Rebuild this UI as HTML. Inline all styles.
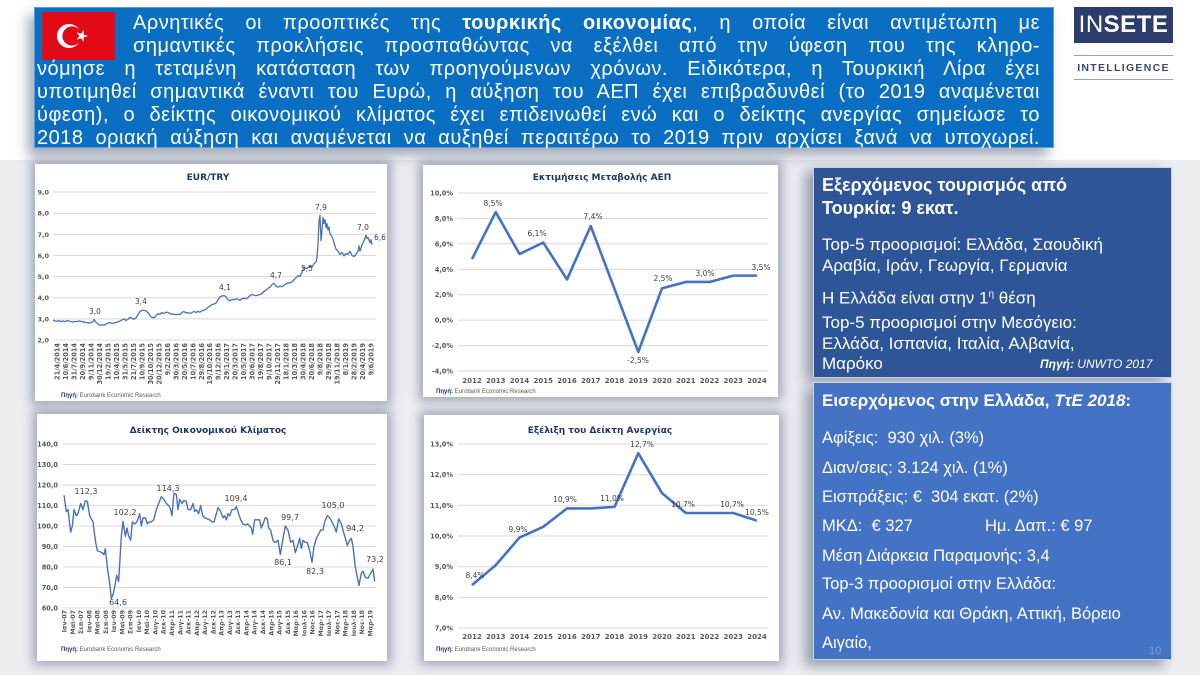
<!DOCTYPE html>
<html><head><meta charset="utf-8">
<style>
*{margin:0;padding:0;box-sizing:border-box}
html,body{width:1200px;height:675px;overflow:hidden;background:#eceef2;font-family:"Liberation Sans","DejaVu Sans",sans-serif}
.abs{position:absolute}
.banner{left:34px;top:7px;width:1020px;height:141px;background:#0a6fc2;border:1px solid #5d9ad6;box-shadow:-6px 8px 12px rgba(90,100,125,.55)}
.bl{position:absolute;color:#fff;font-size:20px;line-height:23px;height:23px;text-align:justify;text-align-last:justify;white-space:nowrap;overflow:visible;letter-spacing:0.5px}
.box{position:absolute;background:#fff;box-shadow:0 0 10px 4px rgba(85,95,125,.5)}
.p1{left:813px;top:167px;width:359px;height:211px;background:#2e5597;border:1px solid #c9d2e2;box-shadow:-8px 4px 12px rgba(80,90,115,.55)}
.p2{left:813px;top:382px;width:359px;height:278px;background:#4472c4;border:1px solid #c9d2e2;box-shadow:-8px 6px 12px rgba(80,90,115,.55)}
.pt{position:absolute;left:822px;color:#fff;white-space:nowrap}
.t18{font-size:18px;font-weight:bold;line-height:22px;height:22px}
.t17{font-size:17px;line-height:22px;height:22px}
.t165{font-size:16.5px;line-height:22px;height:22px}
</style></head><body>

<!-- top white region -->
<div class="abs" style="left:0;top:0;width:1200px;height:160px;background:#fff"></div>

<!-- banner -->
<div class="abs banner"></div>
<div class="abs" style="left:42px;top:12px;width:73px;height:48px;background:#e30a17"></div>
<svg class="abs" style="left:42px;top:12px" width="73" height="48" viewBox="0 0 73 48">
<circle cx="27" cy="24" r="12" fill="#fff"/>
<circle cx="30" cy="24" r="9.6" fill="#e30a17"/>
<polygon fill="#fff" points="42,24 37.6,25.4 37.7,30.1 35,26.3 30.6,27.8 33.4,24 30.6,20.2 35,21.7 37.7,17.9 37.6,22.6" transform="translate(4,0)"/>
</svg>

<div class="bl" style="left:133px;top:12px;width:907px">Αρνητικές οι προοπτικές της <b>τουρκικής οικονομίας</b>, η οποία είναι αντιμέτωπη με</div>
<div class="bl" style="left:133px;top:35px;width:907px">σημαντικές προκλήσεις προσπαθώντας να εξέλθει από την ύφεση που της κληρο-</div>
<div class="bl" style="left:37px;top:58px;width:1003px">νόμησε η τεταμένη κατάσταση των προηγούμενων χρόνων. Ειδικότερα, η Τουρκική Λίρα έχει</div>
<div class="bl" style="left:37px;top:81px;width:1003px">υποτιμηθεί σημαντικά έναντι του Ευρώ, η αύξηση του ΑΕΠ έχει επιβραδυνθεί (το 2019 αναμένεται</div>
<div class="bl" style="left:37px;top:104px;width:1003px">ύφεση), ο δείκτης οικονομικού κλίματος έχει επιδεινωθεί ενώ και ο δείκτης ανεργίας σημείωσε το</div>
<div class="bl" style="left:37px;top:127px;width:1003px">2018 οριακή αύξηση και αναμένεται να αυξηθεί περαιτέρω το 2019 πριν αρχίσει ξανά να υποχωρεί.</div>

<!-- logo -->
<div class="abs" style="left:1074px;top:7px;width:99px;height:36px;background:#2c3d6b;color:#fff;font-size:24px;line-height:36px;text-align:center;letter-spacing:0.5px">IN<b>SETE</b></div>
<div class="abs" style="left:1074px;top:55px;width:99px;height:1px;background:#9aa1ad"></div>
<div class="abs" style="left:1074px;top:61px;width:99px;font-size:10.5px;font-weight:bold;color:#3c4a66;text-align:center;letter-spacing:1.3px;line-height:14px">INTELLIGENCE</div>
<div class="abs" style="left:1074px;top:79px;width:99px;height:1px;background:#9aa1ad"></div>

<!-- chart boxes -->
<div class="box" style="left:35px;top:164px;width:352px;height:237px"></div>
<div class="box" style="left:423px;top:165px;width:355px;height:232px"></div>
<div class="box" style="left:37px;top:414px;width:350px;height:247px"></div>
<div class="box" style="left:424px;top:415px;width:355px;height:246px"></div>

<!-- right panels -->
<div class="abs p1"></div>
<div class="abs p2"></div>

<div class="pt t18" style="top:174px">Εξερχόμενος τουρισμός από</div>
<div class="pt t18" style="top:197px">Τουρκία: 9 εκατ.</div>
<div class="pt t17" style="top:234px">Top-5 προορισμοί: Ελλάδα, Σαουδική</div>
<div class="pt t17" style="top:255px">Αραβία, Ιράν, Γεωργία, Γερμανία</div>
<div class="pt t17" style="top:284px">Η Ελλάδα είναι στην 1<sup style="font-size:10px">η</sup> θέση</div>
<div class="pt t17" style="top:312px">Top-5 προορισμοί στην Μεσόγειο:</div>
<div class="pt t17" style="top:333px">Ελλάδα, Ισπανία, Ιταλία, Αλβανία,</div>
<div class="pt t17" style="top:353px">Μαρόκο</div>
<div class="abs" style="left:1040px;top:357px;font-size:12px;font-style:italic;color:#fff;white-space:nowrap;line-height:14px"><b>Πηγή:</b> UNWTO 2017</div>

<div class="pt" style="top:390px;font-size:17px;font-weight:bold;line-height:22px">Εισερχόμενος στην Ελλάδα, <i>ΤτΕ 2018</i>:</div>
<div class="pt t165" style="top:427px">Αφίξεις:&nbsp; 930 χιλ. (3%)</div>
<div class="pt t165" style="top:457px">Διαν/σεις: 3.124 χιλ. (1%)</div>
<div class="pt t165" style="top:486px">Εισπράξεις: €&nbsp; 304 εκατ. (2%)</div>
<div class="pt t165" style="top:515px">ΜΚΔ:&nbsp; € 327</div>
<div class="pt t165" style="top:515px;left:985px">Ημ. Δαπ.: € 97</div>
<div class="pt t165" style="top:545px">Μέση Διάρκεια Παραμονής: 3,4</div>
<div class="pt t165" style="top:573px">Top-3 προορισμοί στην Ελλάδα:</div>
<div class="pt t165" style="top:603px">Αν. Μακεδονία και Θράκη, Αττική, Βόρειο</div>
<div class="pt t165" style="top:632px">Αιγαίο,</div>
<div class="abs" style="left:1149px;top:645px;font-size:11px;color:#7f9bd0;line-height:12px">10</div>

<!-- charts svg -->
<svg class="abs" style="left:0;top:0" width="1200" height="675" viewBox="0 0 1200 675" font-family="DejaVu Sans, Verdana, sans-serif">
<!-- ===== Chart 1 EUR/TRY ===== -->
<text x="208" y="180" font-size="9" font-weight="bold" fill="#1f3864" text-anchor="middle">EUR/TRY</text>
<g stroke="#d9d9d9" stroke-width="1">
<line x1="53" x2="376" y1="192" y2="192"/><line x1="53" x2="376" y1="213.2" y2="213.2"/><line x1="53" x2="376" y1="234.3" y2="234.3"/><line x1="53" x2="376" y1="255.4" y2="255.4"/><line x1="53" x2="376" y1="276.6" y2="276.6"/><line x1="53" x2="376" y1="297.7" y2="297.7"/><line x1="53" x2="376" y1="318.9" y2="318.9"/><line x1="53" x2="376" y1="340" y2="340"/>
</g>
<g font-size="6.5" font-weight="bold" fill="#595959" text-anchor="end">
<text x="49" y="194.5">9,0</text><text x="49" y="215.7">8,0</text><text x="49" y="236.8">7,0</text><text x="49" y="257.9">6,0</text><text x="49" y="279.1">5,0</text><text x="49" y="300.2">4,0</text><text x="49" y="321.4">3,0</text><text x="49" y="342.5">2,0</text>
</g>
<g transform="translate(0,382.28) scale(1,-21.14)">
<polyline fill="none" stroke="#4a72b8" stroke-width="1.3" vector-effect="non-scaling-stroke" stroke-linejoin="round" points="53,2.95 55,2.9 57,2.88 59,2.92 61,2.87 63,2.9 65,2.86 67,2.92 69,2.9 71,2.87 73,2.85 75,2.88 77,2.87 79,2.9 81,2.88 83,2.86 85,2.84 87,2.82 89,2.8 91,2.83 93,2.86 94,2.98 95,2.9 96,2.85 98,2.75 100,2.7 102,2.72 104,2.7 106,2.75 108,2.8 110,2.82 112,2.78 114,2.8 116,2.83 118,2.85 120,2.9 122,2.95 124,3.0 126,2.92 128,2.98 130,3.08 132,3.02 134,2.98 136,3.05 138,3.2 140,3.35 142,3.4 144,3.4 146,3.38 148,3.3 150,3.15 152,3.07 154,3.05 156,3.15 158,3.25 160,3.22 162,3.3 164,3.25 166,3.32 168,3.3 170,3.25 172,3.22 174,3.22 176,3.2 178,3.22 180,3.2 182,3.3 184,3.35 186,3.28 188,3.3 190,3.25 192,3.3 194,3.35 196,3.3 198,3.35 200,3.32 202,3.38 204,3.42 206,3.45 208,3.55 210,3.6 212,3.68 214,3.7 216,3.75 218,3.9 220,4.05 222,4.08 224,4.1 226,4.05 228,3.9 230,3.85 232,3.92 234,3.9 236,3.95 238,3.92 240,3.88 242,3.95 244,3.98 246,3.95 248,4.0 250,4.1 252,4.15 254,4.12 256,4.1 258,4.12 260,4.15 262,4.2 264,4.3 266,4.35 268,4.45 270,4.5 272,4.62 274,4.68 276,4.55 278,4.5 280,4.55 282,4.52 284,4.6 286,4.65 288,4.7 290,4.7 292,4.75 294,4.85 296,4.95 298,5.05 300,5.0 302,5.2 304,5.45 306,5.38 308,5.42 310,5.5 312,5.45 314,5.6 316,5.7 317,5.9 318,6.5 319,7.6 320,7.9 321,6.7 322,7.2 323,7.8 324,7.5 325,7.7 326,7.3 327,7.5 328,7.2 329,7.35 330,7.0 332,6.9 334,6.6 336,6.3 338,6.2 340,6.05 342,6.15 344,5.98 346,6.1 348,6.05 350,6.2 352,6.0 354,5.95 356,6.05 358,6.2 359,6.45 360,6.2 362,6.5 364,6.7 366,6.95 367,6.8 368,6.85 370,6.6 371,6.75 372,6.5"/>
</g>
<g font-size="7.5" fill="#404040" text-anchor="middle">
<text x="95" y="314">3,0</text><text x="141" y="304">3,4</text><text x="225" y="290">4,1</text><text x="276" y="278">4,7</text><text x="307" y="271">5,5</text><text x="321" y="210">7,9</text><text x="363" y="230">7,0</text><text x="380" y="240">6,6</text>
</g>
<g font-size="6.6" font-weight="bold" fill="#595959" text-anchor="end">
<text transform="translate(59.5,343) rotate(-90)">21/4/2014</text>
<text transform="translate(68,343) rotate(-90)">10/6/2014</text>
<text transform="translate(76.5,343) rotate(-90)">31/7/2014</text>
<text transform="translate(85,343) rotate(-90)">20/9/2014</text>
<text transform="translate(93.4,343) rotate(-90)">9/11/2014</text>
<text transform="translate(101.9,343) rotate(-90)">30/12/2014</text>
<text transform="translate(110.4,343) rotate(-90)">19/2/2015</text>
<text transform="translate(118.9,343) rotate(-90)">10/4/2015</text>
<text transform="translate(127.4,343) rotate(-90)">31/5/2015</text>
<text transform="translate(135.9,343) rotate(-90)">21/7/2015</text>
<text transform="translate(144.4,343) rotate(-90)">10/9/2015</text>
<text transform="translate(152.8,343) rotate(-90)">30/10/2015</text>
<text transform="translate(161.3,343) rotate(-90)">20/12/2015</text>
<text transform="translate(169.8,343) rotate(-90)">9/2/2016</text>
<text transform="translate(178.3,343) rotate(-90)">30/3/2016</text>
<text transform="translate(186.8,343) rotate(-90)">20/5/2016</text>
<text transform="translate(195.3,343) rotate(-90)">10/7/2016</text>
<text transform="translate(203.8,343) rotate(-90)">29/8/2016</text>
<text transform="translate(212.2,343) rotate(-90)">19/10/2016</text>
<text transform="translate(220.7,343) rotate(-90)">9/12/2016</text>
<text transform="translate(229.2,343) rotate(-90)">29/1/2017</text>
<text transform="translate(237.7,343) rotate(-90)">20/3/2017</text>
<text transform="translate(246.2,343) rotate(-90)">10/5/2017</text>
<text transform="translate(254.7,343) rotate(-90)">30/6/2017</text>
<text transform="translate(263.2,343) rotate(-90)">19/8/2017</text>
<text transform="translate(271.6,343) rotate(-90)">9/10/2017</text>
<text transform="translate(280.1,343) rotate(-90)">29/11/2017</text>
<text transform="translate(288.6,343) rotate(-90)">18/1/2018</text>
<text transform="translate(297.1,343) rotate(-90)">10/3/2018</text>
<text transform="translate(305.6,343) rotate(-90)">30/4/2018</text>
<text transform="translate(314.1,343) rotate(-90)">20/6/2018</text>
<text transform="translate(322.6,343) rotate(-90)">9/8/2018</text>
<text transform="translate(331,343) rotate(-90)">29/9/2018</text>
<text transform="translate(339.5,343) rotate(-90)">19/11/2018</text>
<text transform="translate(348,343) rotate(-90)">8/1/2019</text>
<text transform="translate(356.5,343) rotate(-90)">28/2/2019</text>
<text transform="translate(365,343) rotate(-90)">20/4/2019</text>
<text transform="translate(373.5,343) rotate(-90)">9/6/2019</text>
</g>
<text x="61" y="397" font-family="Liberation Sans, sans-serif" font-size="6" fill="#595959"><tspan font-weight="bold" fill="#1f3864">Πηγή:</tspan> Eurobank Economic Research</text>

<!-- ===== Chart 2 GDP ===== -->
<text x="602" y="180" font-size="9" font-weight="bold" fill="#1f3864" text-anchor="middle">Εκτιμήσεις Μεταβολής ΑΕΠ</text>
<g stroke="#d9d9d9" stroke-width="1">
<line x1="458" x2="768" y1="193" y2="193"/><line x1="458" x2="768" y1="218.4" y2="218.4"/><line x1="458" x2="768" y1="243.8" y2="243.8"/><line x1="458" x2="768" y1="269.3" y2="269.3"/><line x1="458" x2="768" y1="294.7" y2="294.7"/><line x1="458" x2="768" y1="320.1" y2="320.1"/><line x1="458" x2="768" y1="345.6" y2="345.6"/><line x1="458" x2="768" y1="371" y2="371"/>
</g>
<g font-size="6.6" font-weight="bold" fill="#595959" text-anchor="end">
<text x="453" y="195.5">10,0%</text><text x="453" y="220.9">8,0%</text><text x="453" y="246.3">6,0%</text><text x="453" y="271.8">4,0%</text><text x="453" y="297.2">2,0%</text><text x="453" y="322.6">0,0%</text><text x="453" y="348.1">-2,0%</text><text x="453" y="373.5">-4,0%</text>
</g>
<g transform="translate(472,320.1) scale(23.75,-12.71)">
<polyline fill="none" stroke="#4472c4" stroke-width="2.6" vector-effect="non-scaling-stroke" stroke-linejoin="round" points="0,4.8 1,8.5 2,5.2 3,6.1 4,3.2 5,7.4 6,2.45 7,-2.5 8,2.5 9,3 10,3 11,3.5 12,3.5"/>
</g>
<g font-size="7.5" fill="#404040" text-anchor="middle">
<text x="493" y="206">8,5%</text><text x="537" y="236">6,1%</text><text x="593" y="219">7,4%</text><text x="638" y="363">-2,5%</text><text x="663" y="281">2,5%</text><text x="705" y="276">3,0%</text><text x="761" y="270">3,5%</text>
</g>
<g font-size="7" font-weight="bold" fill="#595959" text-anchor="middle">
<text x="472" y="383">2012</text><text x="495.75" y="383">2013</text><text x="519.5" y="383">2014</text><text x="543.25" y="383">2015</text><text x="567" y="383">2016</text><text x="590.75" y="383">2017</text><text x="614.5" y="383">2018</text><text x="638.25" y="383">2019</text><text x="662" y="383">2020</text><text x="685.75" y="383">2021</text><text x="709.5" y="383">2022</text><text x="733.25" y="383">2023</text><text x="757" y="383">2024</text>
</g>
<text x="436" y="393" font-family="Liberation Sans, sans-serif" font-size="6" fill="#595959"><tspan font-weight="bold" fill="#1f3864">Πηγή:</tspan> Eurobank Economic Research</text>

<!-- ===== Chart 3 Climate ===== -->
<text x="208" y="433" font-size="9" font-weight="bold" fill="#1f3864" text-anchor="middle">Δείκτης Οικονομικού Κλίματος</text>
<g stroke="#d9d9d9" stroke-width="1">
<line x1="63" x2="376" y1="444" y2="444"/><line x1="63" x2="376" y1="464.5" y2="464.5"/><line x1="63" x2="376" y1="485" y2="485"/><line x1="63" x2="376" y1="505.5" y2="505.5"/><line x1="63" x2="376" y1="526" y2="526"/><line x1="63" x2="376" y1="546.5" y2="546.5"/><line x1="63" x2="376" y1="567" y2="567"/><line x1="63" x2="376" y1="587.5" y2="587.5"/><line x1="63" x2="376" y1="608" y2="608"/>
</g>
<g font-size="6.6" font-weight="bold" fill="#595959" text-anchor="end">
<text x="58" y="446.5">140,0</text><text x="58" y="467">130,0</text><text x="58" y="487.5">120,0</text><text x="58" y="508">110,0</text><text x="58" y="528.5">100,0</text><text x="58" y="549">90,0</text><text x="58" y="569.5">80,0</text><text x="58" y="590">70,0</text><text x="58" y="610.5">60,0</text>
</g>
<g transform="translate(28,731) scale(0.333333,-2.05)">
<polyline fill="none" stroke="#4a72b8" stroke-width="1.4" vector-effect="non-scaling-stroke" stroke-linejoin="round" points="108,115 115,107 120,108 128,97 133,100 138,108 145,105 150,106 158,111 165,108 172,112.3 178,112 185,105 195,102 198,98 203,92 208,88 215,87.5 222,87 228,86 232,89 238,80 245,72 250,64.6 256,67 262,72 266,76 272,73 280,95 285,102.2 292,95 297,99 302,95 308,93 313,102 320,101 327,102 335,106 340,100 345,104 352,104 358,101 363,102 370,102 377,103 385,108 392,111 400,114.3 408,113 415,111 422,110 428,108 432,105 438,116 445,115.5 450,108 455,113 462,111 468,112.5 475,112 480,108 488,108 495,111 500,107 505,108 512,106 518,110 524,105 530,104 538,103.5 545,103 552,102 558,102 565,106 570,109 578,107 585,104 590,105 595,103 600,106 605,105 612,108 620,108 625,109.4 632,106 638,103 645,101 652,100.5 658,101 665,100 670,99 674,96 680,103 688,103 695,103 700,99 705,101 712,104 718,103.5 722,99 728,98 735,93 742,92 750,93 757,86.1 763,92 772,100 780,98 788,92 795,93 802,87 808,90 815,94 820,89 825,93 832,92 838,92 845,88 852,82.3 858,90 865,94 872,96 878,98 885,98 890,102 898,105 905,104 912,102 918,100 925,97 932,103.5 940,101 945,98 952,94 958,90.5 965,93 970,94 975,90 982,80 988,75 993,71 1000,77 1005,78 1012,75 1020,74.5 1025,76 1035,79 1040,73"/>
</g>
<g font-size="8" fill="#404040" text-anchor="middle">
<text x="86" y="494">112,3</text><text x="118" y="605">64,6</text><text x="125" y="515">102,2</text><text x="168" y="491">114,3</text><text x="236" y="501">109,4</text><text x="290" y="520">99,7</text><text x="283" y="565">86,1</text><text x="315" y="574">82,3</text><text x="333" y="508">105,0</text><text x="355" y="531">94,2</text><text x="375" y="562">73,2</text>
</g>
<g font-size="6.3" font-weight="bold" fill="#595959" text-anchor="end">
<text transform="translate(66.5,610) rotate(-90)">Ιαν-07</text>
<text transform="translate(74.8,610) rotate(-90)">Μαϊ-07</text>
<text transform="translate(83,610) rotate(-90)">Σεπ-07</text>
<text transform="translate(91.3,610) rotate(-90)">Ιαν-08</text>
<text transform="translate(99.6,610) rotate(-90)">Μαϊ-08</text>
<text transform="translate(107.9,610) rotate(-90)">Σεπ-08</text>
<text transform="translate(116.1,610) rotate(-90)">Ιαν-09</text>
<text transform="translate(124.4,610) rotate(-90)">Μαϊ-09</text>
<text transform="translate(132.7,610) rotate(-90)">Σεπ-09</text>
<text transform="translate(140.9,610) rotate(-90)">Ιαν-10</text>
<text transform="translate(149.2,610) rotate(-90)">Μαϊ-10</text>
<text transform="translate(157.5,610) rotate(-90)">Αυγ-10</text>
<text transform="translate(165.7,610) rotate(-90)">Δεκ-10</text>
<text transform="translate(174,610) rotate(-90)">Απρ-11</text>
<text transform="translate(182.3,610) rotate(-90)">Αυγ-11</text>
<text transform="translate(190.6,610) rotate(-90)">Δεκ-11</text>
<text transform="translate(198.8,610) rotate(-90)">Απρ-12</text>
<text transform="translate(207.1,610) rotate(-90)">Αυγ-12</text>
<text transform="translate(215.4,610) rotate(-90)">Δεκ-12</text>
<text transform="translate(223.6,610) rotate(-90)">Απρ-13</text>
<text transform="translate(231.9,610) rotate(-90)">Αυγ-13</text>
<text transform="translate(240.2,610) rotate(-90)">Δεκ-13</text>
<text transform="translate(248.4,610) rotate(-90)">Απρ-14</text>
<text transform="translate(256.7,610) rotate(-90)">Αυγ-14</text>
<text transform="translate(265,610) rotate(-90)">Δεκ-14</text>
<text transform="translate(273.3,610) rotate(-90)">Απρ-15</text>
<text transform="translate(281.5,610) rotate(-90)">Αυγ-15</text>
<text transform="translate(289.8,610) rotate(-90)">Δεκ-15</text>
<text transform="translate(298.1,610) rotate(-90)">Μαρ-16</text>
<text transform="translate(306.3,610) rotate(-90)">Ιουλ-16</text>
<text transform="translate(314.6,610) rotate(-90)">Νοε-16</text>
<text transform="translate(322.9,610) rotate(-90)">Μαρ-17</text>
<text transform="translate(331.1,610) rotate(-90)">Ιουλ-17</text>
<text transform="translate(339.4,610) rotate(-90)">Νοε-17</text>
<text transform="translate(347.7,610) rotate(-90)">Μαρ-18</text>
<text transform="translate(356,610) rotate(-90)">Ιουλ-18</text>
<text transform="translate(364.2,610) rotate(-90)">Νοε-18</text>
<text transform="translate(372.5,610) rotate(-90)">Μαρ-19</text>
</g>
<text x="61" y="651" font-family="Liberation Sans, sans-serif" font-size="6" fill="#595959"><tspan font-weight="bold" fill="#1f3864">Πηγή:</tspan> Eurobank Economic Research</text>

<!-- ===== Chart 4 Unemployment ===== -->
<text x="600" y="433" font-size="9" font-weight="bold" fill="#1f3864" text-anchor="middle">Εξέλιξη του Δείκτη Ανεργίας</text>
<g stroke="#d9d9d9" stroke-width="1">
<line x1="458" x2="768" y1="444" y2="444"/><line x1="458" x2="768" y1="474.7" y2="474.7"/><line x1="458" x2="768" y1="505.3" y2="505.3"/><line x1="458" x2="768" y1="536" y2="536"/><line x1="458" x2="768" y1="566.7" y2="566.7"/><line x1="458" x2="768" y1="597.3" y2="597.3"/><line x1="458" x2="768" y1="628" y2="628"/>
</g>
<g font-size="6.6" font-weight="bold" fill="#595959" text-anchor="end">
<text x="453" y="446.5">13,0%</text><text x="453" y="477.2">12,0%</text><text x="453" y="507.8">11,0%</text><text x="453" y="538.5">10,0%</text><text x="453" y="569.2">9,0%</text><text x="453" y="599.8">8,0%</text><text x="453" y="630.5">7,0%</text>
</g>
<g transform="translate(472,842.71) scale(23.75,-30.67)">
<polyline fill="none" stroke="#4472c4" stroke-width="2.6" vector-effect="non-scaling-stroke" stroke-linejoin="round" points="0,8.4 1,9.05 2,9.95 3,10.3 4,10.9 5,10.9 6,10.95 7,12.7 8,11.4 9,10.75 10,10.75 11,10.75 12,10.5"/>
</g>
<g font-size="7.5" fill="#404040" text-anchor="middle">
<text x="475" y="578">8,4%</text><text x="518" y="532">9,9%</text><text x="565" y="502">10,9%</text><text x="612" y="501">11,0%</text><text x="642" y="447">12,7%</text><text x="683" y="507">10,7%</text><text x="732" y="507">10,7%</text><text x="757" y="515">10,5%</text>
</g>
<g font-size="7" font-weight="bold" fill="#595959" text-anchor="middle">
<text x="472" y="639">2012</text><text x="495.75" y="639">2013</text><text x="519.5" y="639">2014</text><text x="543.25" y="639">2015</text><text x="567" y="639">2016</text><text x="590.75" y="639">2017</text><text x="614.5" y="639">2018</text><text x="638.25" y="639">2019</text><text x="662" y="639">2020</text><text x="685.75" y="639">2021</text><text x="709.5" y="639">2022</text><text x="733.25" y="639">2023</text><text x="757" y="639">2024</text>
</g>
<text x="436" y="651" font-family="Liberation Sans, sans-serif" font-size="6" fill="#595959"><tspan font-weight="bold" fill="#1f3864">Πηγή:</tspan> Eurobank Economic Research</text>
</svg>
</body></html>
